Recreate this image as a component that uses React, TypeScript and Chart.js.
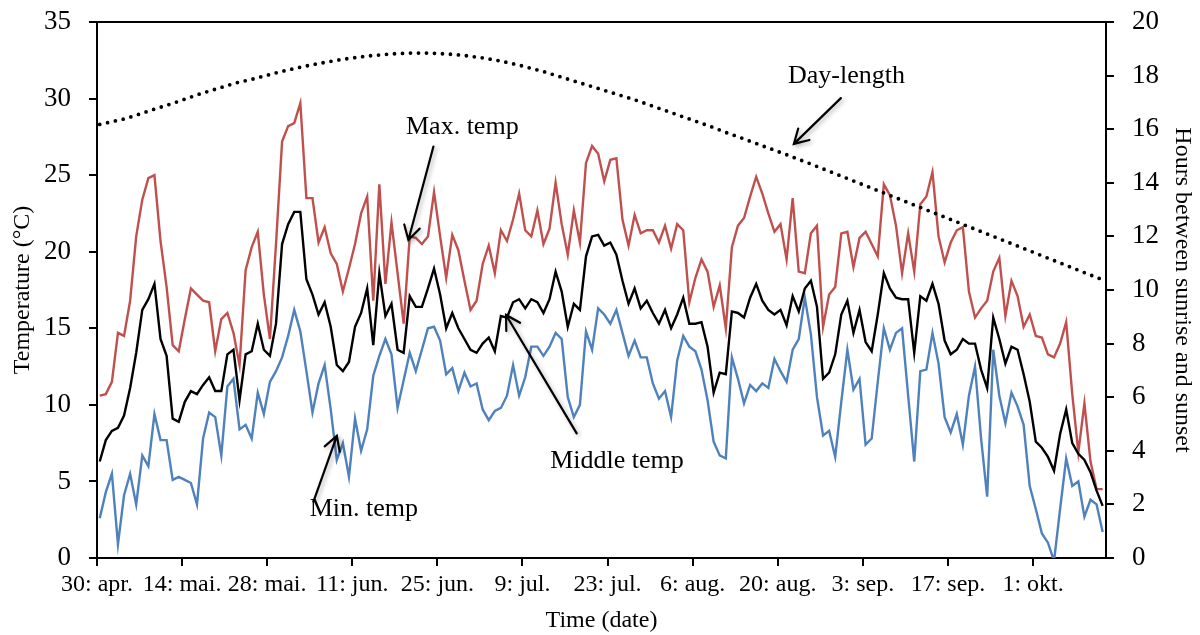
import React, { useEffect, useRef } from 'react';
import { Chart, registerables } from 'chart.js';

Chart.register(...registerables);

// Tick positions (days after 30 April) and their labels
const tickDays = [0, 14, 28, 42, 56, 70, 84, 98, 112, 126, 140, 154];
const tickLabels = ['30: apr.', '14: mai.', '28: mai.', '11: jun.', '25: jun.', '9: jul.', '23: jul.', '6: aug.', '20: aug.', '3: sep.', '17: sep.', '1: okt.'];

// Daily maximum temperature (°C), 30 Apr – 13 Oct
const maxTemp = [
  10.6, 10.7, 11.5, 14.7, 14.5, 16.8, 21.0, 23.4, 24.8, 25.0,
  20.7, 17.7, 13.9, 13.5, 15.6, 17.6, 17.2, 16.8, 16.7, 13.5,
  15.6, 16.0, 14.7, 12.6, 18.8, 20.3, 21.3, 17.2, 14.3, 20.5,
  27.2, 28.2, 28.4, 29.7, 23.5, 23.5, 20.6, 21.6, 19.9, 19.2,
  17.4, 18.9, 20.5, 22.5, 23.6, 16.8, 24.4, 17.9, 21.9, 18.6,
  15.3, 21.0, 20.9, 20.5, 21.0, 23.9, 21.0, 18.3, 21.1, 20.1,
  18.1, 16.2, 16.8, 19.2, 20.4, 18.6, 21.4, 20.7, 22.1, 23.8,
  21.4, 21.0, 22.7, 20.5, 21.5, 24.5, 21.8, 19.8, 22.7, 20.6,
  25.8, 26.9, 26.4, 24.6, 26.0, 26.1, 22.1, 20.4, 22.4, 21.2,
  21.4, 21.4, 20.6, 21.7, 20.2, 21.8, 21.4, 16.7, 18.3, 19.5,
  18.7, 16.4, 17.8, 15.0, 20.3, 21.7, 22.2, 23.6, 24.9, 23.8,
  22.5, 21.3, 21.8, 19.5, 23.5, 18.7, 18.6, 21.2, 21.7, 15.1,
  17.2, 17.7, 21.2, 21.3, 19.0, 20.9, 21.3, 20.5, 19.7, 24.4,
  23.7, 21.7, 18.6, 21.2, 18.7, 23.1, 23.6, 25.2, 21.0, 19.3,
  20.6, 21.4, 21.6, 17.4, 15.7, 16.3, 16.8, 18.7, 19.6, 15.8,
  18.1, 17.1, 15.1, 15.9, 14.5, 14.4, 13.3, 13.1, 14.0, 15.4,
  10.7, 6.9, 10.1, 6.3, 4.5, 4.5,
];

// Daily middle temperature (°C)
const midTemp = [
  6.3, 7.7, 8.3, 8.5, 9.3, 11.1, 13.4, 16.2, 16.9, 17.9,
  14.3, 13.2, 9.1, 8.9, 10.2, 10.9, 10.7, 11.3, 11.8, 10.9,
  10.9, 13.3, 13.6, 10.3, 13.3, 13.5, 15.3, 13.6, 13.2, 15.3,
  20.5, 21.8, 22.6, 22.6, 18.2, 17.2, 15.9, 16.7, 15.1, 12.6,
  12.2, 12.8, 15.1, 16.0, 17.6, 13.9, 18.6, 15.8, 16.6, 13.6,
  13.4, 17.1, 16.4, 16.4, 17.6, 18.9, 17.2, 15.0, 16.0, 15.0,
  14.3, 13.6, 13.4, 14.0, 14.4, 13.5, 15.8, 15.7, 16.7, 16.9,
  16.3, 16.9, 16.7, 16.0, 16.9, 18.7, 17.4, 15.1, 16.6, 16.2,
  19.7, 21.0, 21.1, 20.4, 20.6, 19.8, 18.1, 16.6, 17.6, 16.3,
  16.8, 16.0, 15.3, 16.2, 15.0, 15.9, 17.0, 15.3, 15.3, 15.4,
  13.8, 10.8, 12.1, 12.0, 16.1, 16.0, 15.7, 17.0, 17.9, 16.8,
  16.2, 15.9, 16.2, 15.2, 17.1, 16.1, 17.6, 18.1, 16.4, 11.7,
  12.1, 13.3, 15.9, 16.8, 14.7, 16.2, 14.1, 13.5, 15.9, 18.6,
  17.6, 17.0, 16.9, 16.9, 13.4, 17.1, 16.8, 17.9, 16.6, 14.2,
  13.3, 13.6, 14.3, 14.0, 14.0, 12.3, 11.1, 15.7, 14.3, 12.7,
  13.8, 13.6, 12.0, 10.2, 7.6, 7.2, 6.6, 5.7, 8.1, 9.7,
  7.5, 6.8, 6.4, 5.6, 4.4, 3.4,
];

// Daily minimum temperature (°C)
const minTemp = [
  2.6, 4.3, 5.5, 0.9, 4.1, 5.5, 3.5, 6.7, 6.0, 9.4,
  7.7, 7.7, 5.1, 5.3, 5.1, 4.9, 3.5, 7.8, 9.5, 9.2,
  6.7, 11.2, 11.7, 8.4, 8.7, 7.8, 10.8, 9.4, 11.5, 12.2,
  13.1, 14.5, 16.2, 14.8, 12.2, 9.5, 11.4, 12.6, 9.7, 6.4,
  7.5, 5.3, 9.1, 7.0, 8.4, 11.9, 13.2, 14.3, 13.3, 9.8,
  11.6, 13.4, 12.2, 13.6, 15.0, 15.1, 14.2, 12.0, 12.4, 10.9,
  12.1, 11.2, 11.4, 9.7, 9.0, 9.6, 9.8, 10.6, 12.6, 10.6,
  11.8, 13.8, 13.8, 13.2, 13.8, 14.7, 14.3, 10.5, 9.2, 10.0,
  14.8, 13.6, 16.3, 15.9, 15.3, 16.2, 14.7, 13.2, 14.2, 13.1,
  13.1, 11.4, 10.4, 10.9, 9.2, 12.9, 14.5, 13.8, 13.5, 12.3,
  10.3, 7.6, 6.7, 6.5, 13.1, 11.7, 10.1, 11.3, 10.9, 11.4,
  11.1, 13.0, 12.2, 11.5, 13.6, 14.3, 17.0, 14.6, 10.5, 8.0,
  8.3, 6.6, 10.2, 13.6, 11.0, 11.7, 7.4, 7.8, 11.5, 15.0,
  13.6, 14.7, 15.0, 10.6, 6.3, 12.2, 12.3, 14.7, 12.7, 9.2,
  8.2, 9.4, 7.4, 10.6, 12.5, 7.8, 4.0, 13.6, 10.6, 8.8,
  10.8, 9.9, 8.7, 4.7, 3.2, 1.6, 1.0, -0.2, 3.2, 6.5,
  4.7, 5.0, 2.7, 3.8, 3.5, 1.7,
];

// Hours between sunrise and sunset
const dayLength = [
  16.18, 16.23, 16.28, 16.33, 16.38, 16.45, 16.52, 16.6, 16.67, 16.75,
  16.82, 16.89, 16.97, 17.04, 17.12, 17.2, 17.28, 17.36, 17.42, 17.49,
  17.56, 17.63, 17.7, 17.76, 17.81, 17.86, 17.92, 17.98, 18.04, 18.1,
  18.16, 18.21, 18.26, 18.31, 18.36, 18.41, 18.45, 18.49, 18.53, 18.57,
  18.61, 18.64, 18.67, 18.7, 18.73, 18.75, 18.77, 18.79, 18.81, 18.82,
  18.83, 18.84, 18.84, 18.84, 18.84, 18.83, 18.82, 18.81, 18.79, 18.77,
  18.75, 18.72, 18.69, 18.66, 18.62, 18.58, 18.54, 18.49, 18.44, 18.39,
  18.33, 18.27, 18.21, 18.15, 18.08, 18.01, 17.94, 17.87, 17.8, 17.73,
  17.66, 17.59, 17.52, 17.45, 17.38, 17.31, 17.24, 17.17, 17.1, 17.02,
  16.94, 16.86, 16.78, 16.7, 16.62, 16.54, 16.46, 16.38, 16.3, 16.22,
  16.14, 16.06, 15.97, 15.88, 15.8, 15.72, 15.64, 15.55, 15.47, 15.38,
  15.3, 15.22, 15.13, 15.05, 14.96, 14.87, 14.79, 14.7, 14.61, 14.52,
  14.43, 14.34, 14.25, 14.16, 14.07, 13.98, 13.89, 13.8, 13.71, 13.62,
  13.53, 13.44, 13.35, 13.26, 13.17, 13.08, 12.99, 12.9, 12.81, 12.72,
  12.63, 12.54, 12.45, 12.36, 12.27, 12.18, 12.09, 12.0, 11.91, 11.82,
  11.73, 11.64, 11.55, 11.46, 11.37, 11.28, 11.19, 11.1, 11.01, 10.92,
  10.83, 10.74, 10.65, 10.56, 10.47, 10.38,
];

// Annotation labels with arrows (in day / °C units)
const annotations = [
  { text: 'Max. temp', tx: 60.1, ty: 28.15, from: [55.35, 26.87], to: [51.23, 20.77] },
  { text: 'Min. temp', tx: 43.9, ty: 3.2, from: [35.61, 3.68], to: [39.46, 7.97] },
  { text: 'Middle temp', tx: 85.55, ty: 6.34, from: [78.92, 8.14], to: [67.3, 15.87] },
  { text: 'Day-length', tx: 123.3, ty: 31.48, from: [122.38, 30.03], to: [114.65, 27.04] },
];

const FONT = '"Liberation Serif", "Times New Roman", serif';

export default function App() {
  const ref = useRef<HTMLCanvasElement>(null);

  useEffect(() => {
    document.body.style.margin = '0';
    const toPts = (arr: number[]) => arr.map((v, i) => ({ x: i + 0.45, y: v }));

    const annotPlugin = {
      id: 'annot',
      afterDatasetsDraw(chart: any) {
        const { ctx, chartArea, scales } = chart;
        const xs = scales.x;
        const ys = scales.y;
        ctx.save();
        // top frame line
        ctx.strokeStyle = '#000';
        ctx.lineWidth = 2;
        ctx.beginPath();
        ctx.moveTo(chartArea.left - 1, chartArea.top);
        ctx.lineTo(chartArea.right + 1, chartArea.top);
        ctx.stroke();

        for (const a of annotations) {
          const x1 = xs.getPixelForValue(a.from[0]);
          const y1 = ys.getPixelForValue(a.from[1]);
          const x2 = xs.getPixelForValue(a.to[0]);
          const y2 = ys.getPixelForValue(a.to[1]);
          ctx.save();
          ctx.shadowColor = 'rgba(0,0,0,0.3)';
          ctx.shadowBlur = 4;
          ctx.shadowOffsetX = 2;
          ctx.shadowOffsetY = 2;
          ctx.strokeStyle = '#000';
          ctx.lineWidth = 2.2;
          ctx.lineCap = 'round';
          ctx.beginPath();
          ctx.moveTo(x1, y1);
          ctx.lineTo(x2, y2);
          const ang = Math.atan2(y1 - y2, x1 - x2);
          const len = 16;
          const spread = Math.PI / 6;
          ctx.moveTo(x2 + len * Math.cos(ang - spread), y2 + len * Math.sin(ang - spread));
          ctx.lineTo(x2, y2);
          ctx.lineTo(x2 + len * Math.cos(ang + spread), y2 + len * Math.sin(ang + spread));
          ctx.stroke();
          ctx.restore();

          ctx.fillStyle = '#000';
          ctx.font = `26px ${FONT}`;
          ctx.textAlign = 'center';
          ctx.textBaseline = 'middle';
          ctx.fillText(a.text, xs.getPixelForValue(a.tx), ys.getPixelForValue(a.ty));
        }
        ctx.restore();
      },
    };

    const gridOpts = {
      display: true,
      drawOnChartArea: false,
      drawTicks: true,
      tickLength: 8,
      color: '#000',
      lineWidth: 2,
    };

    const chart = new Chart(ref.current as HTMLCanvasElement, {
      type: 'line',
      data: {
        datasets: [
          {
            label: 'Day-length',
            data: toPts(dayLength),
            yAxisID: 'y2',
            borderColor: '#000',
            borderWidth: 3.8,
            borderDash: [0, 8],
            borderCapStyle: 'round',
            pointRadius: 0,
            fill: false,
            tension: 0,
          },
          {
            label: 'Middle temp',
            data: toPts(midTemp),
            yAxisID: 'y',
            borderColor: '#000',
            borderWidth: 2.4,
            pointRadius: 0,
            fill: false,
            tension: 0,
          },
          {
            label: 'Min. temp',
            data: toPts(minTemp),
            yAxisID: 'y',
            borderColor: '#4F81BD',
            borderWidth: 2.4,
            pointRadius: 0,
            fill: false,
            tension: 0,
          },
          {
            label: 'Max. temp',
            data: toPts(maxTemp),
            yAxisID: 'y',
            borderColor: '#C0504D',
            borderWidth: 2.4,
            pointRadius: 0,
            fill: false,
            tension: 0,
          },
        ],
      },
      options: {
        animation: false,
        responsive: true,
        maintainAspectRatio: false,
        layout: { padding: { top: 22, left: 0, right: 0, bottom: 0 } },
        plugins: {
          legend: { display: false },
          tooltip: { enabled: false },
        },
        scales: {
          x: {
            type: 'linear',
            min: 0,
            max: 166,
            afterBuildTicks: (s: any) => {
              s.ticks = tickDays.map((v) => ({ value: v }));
            },
            afterFit: (s: any) => {
              s.height = 77;
              s.paddingLeft = 0;
              s.paddingRight = 0;
            },
            ticks: {
              autoSkip: false,
              maxRotation: 0,
              minRotation: 0,
              padding: 4,
              color: '#000',
              font: { family: FONT, size: 24 },
              callback: (v: any) => {
                const k = tickDays.indexOf(Number(v));
                return k >= 0 ? tickLabels[k] : '';
              },
            },
            grid: gridOpts,
            border: { display: true, color: '#000', width: 2 },
            title: {
              display: true,
              text: 'Time (date)',
              color: '#000',
              font: { family: FONT, size: 24 },
              padding: { top: 0, bottom: 0 },
            },
          },
          y: {
            position: 'left',
            min: 0,
            max: 35,
            afterFit: (s: any) => {
              s.width = 97;
              s.paddingTop = 0;
              s.paddingBottom = 0;
            },
            ticks: {
              stepSize: 5,
              padding: 18,
              color: '#000',
              font: { family: FONT, size: 27 },
            },
            grid: gridOpts,
            border: { display: true, color: '#000', width: 2 },
            title: {
              display: true,
              text: 'Temperature (°C)',
              color: '#000',
              font: { family: FONT, size: 24 },
              padding: { top: 8, bottom: 0 },
            },
          },
          y2: {
            position: 'right',
            min: 0,
            max: 20,
            afterFit: (s: any) => {
              s.width = 94;
              s.paddingTop = 0;
              s.paddingBottom = 0;
            },
            ticks: {
              stepSize: 2,
              padding: 18,
              color: '#000',
              font: { family: FONT, size: 27 },
            },
            grid: gridOpts,
            border: { display: true, color: '#000', width: 2 },
            title: {
              display: true,
              text: 'Hours between sunrise and sunset',
              color: '#000',
              font: { family: FONT, size: 24 },
              padding: { top: 3, bottom: 0 },
            },
          },
        },
      },
      plugins: [annotPlugin],
    } as any);

    return () => chart.destroy();
  }, []);

  return (
    <div style={{ position: 'absolute', left: 0, top: 0, width: 1200, height: 635, background: '#fff' }}>
      <canvas ref={ref} />
    </div>
  );
}
